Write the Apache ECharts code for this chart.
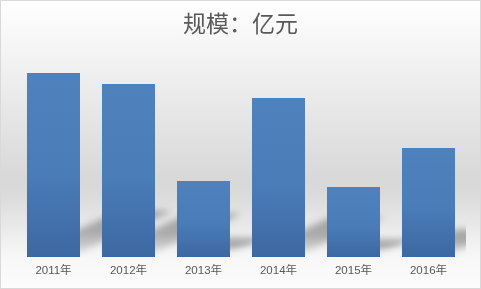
<!DOCTYPE html>
<html><head><meta charset="utf-8">
<script src="https://cdn.jsdelivr.net/npm/echarts@6/dist/echarts.min.js"></script>
<style>
html,body{margin:0;padding:0;background:#fff;}
#c{width:481px;height:289px;box-sizing:border-box;border:1px solid #d9d9d9;}
</style></head>
<body><div id="c"></div>
<script>
const categories = ['2011年','2012年','2013年','2014年','2015年','2016年'];
const values = [184, 173, 76, 159, 70, 109];
const titleText = '规模：亿元';

const chart = echarts.init(document.getElementById('c'));
const LG = echarts.graphic.LinearGradient;
const OFF = 1000;
chart.setOption({
  animation: false,
  backgroundColor: new LG(0,0,0,1,[
    {offset:0, color:'#ffffff'},
    {offset:0.62, color:'#d8d8d8'},
    {offset:0.67, color:'#dadada'},
    {offset:0.89, color:'#f7f7f7'},
    {offset:1, color:'#fcfcfc'}
  ]),
  title: {
    text: titleText, left: 'center', top: 6,
    textStyle: {fontFamily:'"Noto Sans CJK SC"', fontSize: 23, fontWeight: 'normal', color: '#595959'}
  },
  grid: {left: 15, right: 14, top: 56, bottom: 31},
  xAxis: {
    type: 'category', data: categories,
    axisLine: {show:false}, axisTick: {show:false},
    axisLabel: {margin: 8, fontSize: 11.5, color: '#595959', fontFamily: '"Liberation Sans","Noto Sans CJK SC"'}
  },
  yAxis: {type:'value', min:0, max:200, show:false, splitLine:{show:false}},
  series: [
    {
      type: 'custom',
      clip: true,
      z: 1,
      encode: {x: 0, y: 1},
      data: values.map((v, i) => [i, v]),
      renderItem: function (params, api) {
        const idx = api.value(0);
        const v = api.value(1);
        const base = api.coord([idx, 0]);
        const top = api.coord([idx, v]);
        const bw = api.size([1, 0])[0] * 0.707;
        const x0 = base[0] - bw/2, x1 = base[0] + bw/2;
        const yb = base[1];
        const hs = (yb - top[1]) * 0.25;
        const dx = hs * 2;
        return {
          type: 'polygon',
          shape: {points: [[x0, yb-4-OFF],[x1, yb-4-OFF],[x1+dx, yb-hs-OFF],[x0+dx, yb-hs-OFF]]},
          style: {
            fill: new LG(0,0,0,1,[
              {offset:0, color:'rgba(0,0,0,1)'},
              {offset:0.5, color:'rgba(0,0,0,0.85)'},
              {offset:1, color:'rgba(0,0,0,0.3)'}
            ]),
            shadowBlur: 7, shadowOffsetY: OFF, shadowColor: 'rgba(110,110,110,0.6)'
          }
        };
      }
    },
    {
      type: 'bar', data: values, z: 2,
      barCategoryGap: '29.3%',
      itemStyle: {
        color: new LG(0,0,0,1,[
          {offset:0, color:'#4f81bd'},
          {offset:0.55, color:'#4a7cb8'},
          {offset:1, color:'#3d68a1'}
        ])
      }
    }
  ]
});
</script></body></html>
